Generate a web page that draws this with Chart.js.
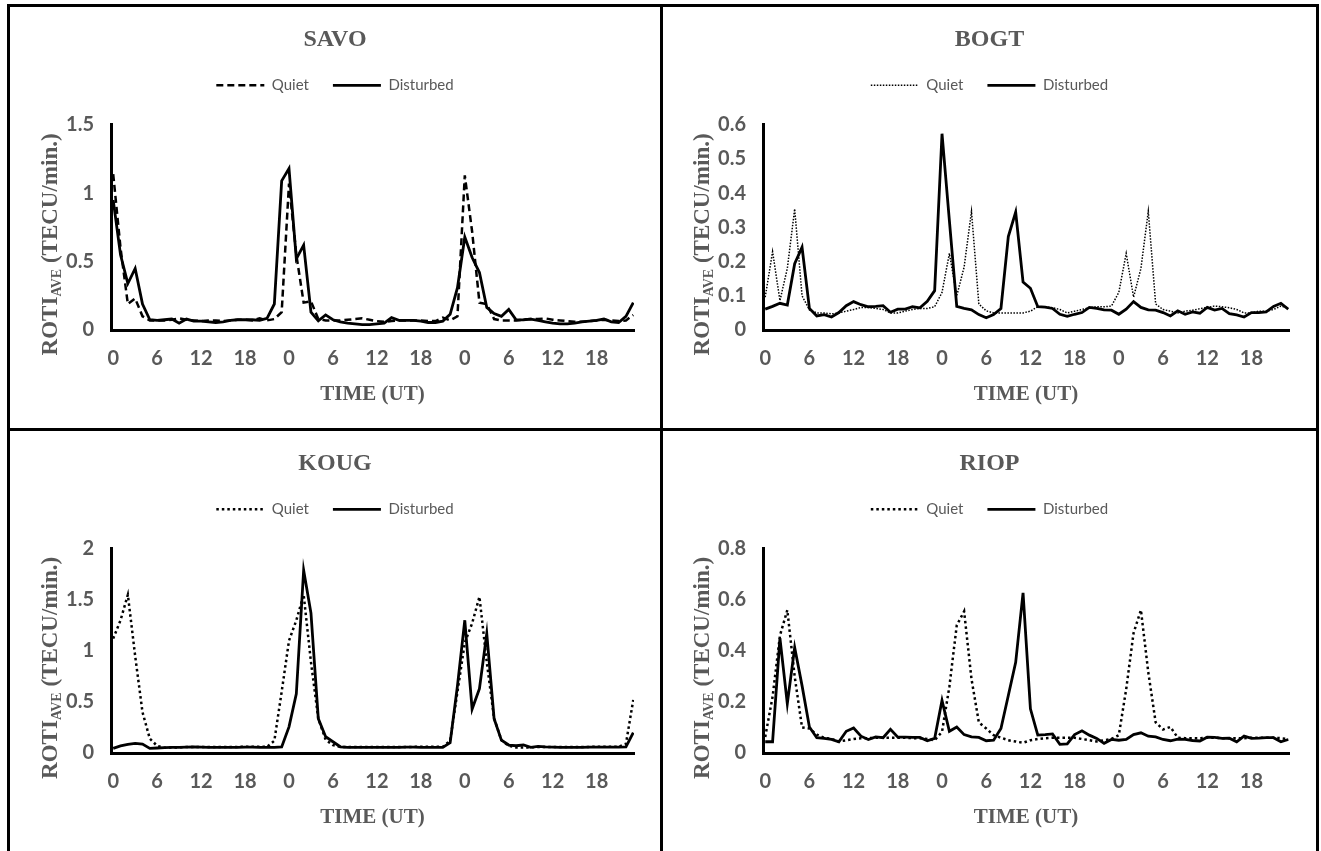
<!DOCTYPE html>
<html lang="en">
<head>
  <meta charset="UTF-8">
  <title>ROTI average - quiet vs disturbed</title>
  <script src="https://cdn.jsdelivr.net/npm/chart.js"></script>
  <style>
    body { margin: 0; background: #fff; }
    .cell { position: absolute; }
    .line { position: absolute; background: #000; }
  </style>
</head>
<body>
  <!-- frame -->
  <div class="line" style="left:7px;top:4px;width:3px;height:847px"></div>
  <div class="line" style="left:1316px;top:4px;width:3px;height:847px"></div>
  <div class="line" style="left:7px;top:4px;width:1312px;height:3px"></div>
  <div class="line" style="left:660px;top:4px;width:3px;height:847px"></div>
  <div class="line" style="left:7px;top:428px;width:1312px;height:3px"></div>

  <canvas id="savo" class="cell" width="650" height="421" style="left:10px;top:7px"></canvas>
  <canvas id="bogt" class="cell" width="653" height="421" style="left:663px;top:7px"></canvas>
  <canvas id="koug" class="cell" width="650" height="420" style="left:10px;top:431px"></canvas>
  <canvas id="riop" class="cell" width="653" height="420" style="left:663px;top:431px"></canvas>

  <script>
    // hour of day for each of the 72 hourly samples (3 days)
    const hours = [];
    for (let d = 0; d < 3; d++) for (let h = 0; h < 24; h++) hours.push(h);

    const savoQuiet = [1.14, 0.6, 0.19, 0.23, 0.1, 0.07, 0.07, 0.07, 0.075, 0.085, 0.075, 0.07, 0.065, 0.07, 0.07, 0.065, 0.07, 0.075, 0.075, 0.07, 0.085, 0.07, 0.08, 0.13,
      1.07, 0.55, 0.2, 0.21, 0.08, 0.07, 0.07, 0.07, 0.075, 0.08, 0.085, 0.075, 0.065, 0.06, 0.065, 0.07, 0.07, 0.07, 0.07, 0.065, 0.065, 0.09, 0.07, 0.1,
      1.13, 0.72, 0.2, 0.19, 0.08, 0.07, 0.07, 0.07, 0.075, 0.08, 0.08, 0.085, 0.075, 0.07, 0.065, 0.06, 0.06, 0.065, 0.07, 0.075, 0.07, 0.065, 0.07, 0.11];
    const savoDisturbed = [0.95, 0.55, 0.34, 0.45, 0.19, 0.075, 0.07, 0.075, 0.08, 0.05, 0.08, 0.065, 0.065, 0.06, 0.055, 0.06, 0.07, 0.075, 0.075, 0.075, 0.07, 0.085, 0.19, 1.09,
      1.18, 0.52, 0.62, 0.13, 0.067, 0.11, 0.075, 0.06, 0.05, 0.045, 0.04, 0.04, 0.045, 0.05, 0.09, 0.07, 0.07, 0.07, 0.065, 0.055, 0.055, 0.065, 0.115, 0.31,
      0.68, 0.53, 0.42, 0.165, 0.12, 0.1, 0.15, 0.074, 0.075, 0.08, 0.07, 0.06, 0.05, 0.045, 0.045, 0.05, 0.06, 0.065, 0.07, 0.08, 0.06, 0.055, 0.1, 0.2];

    const bogtQuiet = [0.096, 0.229, 0.086, 0.18, 0.354, 0.1, 0.059, 0.05, 0.05, 0.047, 0.05, 0.055, 0.06, 0.066, 0.066, 0.063, 0.06, 0.05, 0.05, 0.055, 0.06, 0.063, 0.063, 0.068,
      0.11, 0.224, 0.1, 0.184, 0.347, 0.076, 0.056, 0.05, 0.05, 0.05, 0.05, 0.05, 0.055, 0.068, 0.068, 0.065, 0.06, 0.05, 0.055, 0.06, 0.065, 0.068, 0.068, 0.07,
      0.11, 0.224, 0.096, 0.18, 0.347, 0.076, 0.06, 0.055, 0.05, 0.055, 0.058, 0.062, 0.066, 0.07, 0.068, 0.065, 0.06, 0.05, 0.05, 0.055, 0.055, 0.06, 0.07, 0.065];
    const bogtDisturbed = [0.061, 0.069, 0.078, 0.073, 0.194, 0.242, 0.063, 0.041, 0.045, 0.038, 0.051, 0.071, 0.083, 0.074, 0.068, 0.069, 0.071, 0.052, 0.061, 0.061, 0.068, 0.065, 0.084, 0.115,
      0.574, 0.32, 0.069, 0.063, 0.059, 0.045, 0.036, 0.045, 0.063, 0.273, 0.345, 0.14, 0.122, 0.068, 0.067, 0.063, 0.046, 0.04, 0.046, 0.051, 0.066, 0.063, 0.059, 0.058,
      0.046, 0.061, 0.083, 0.066, 0.059, 0.058, 0.051, 0.041, 0.056, 0.046, 0.053, 0.049, 0.066, 0.058, 0.063, 0.048, 0.044, 0.038, 0.051, 0.051, 0.053, 0.069, 0.078, 0.061];

    const kougQuiet = [1.12, 1.3, 1.55, 0.95, 0.4, 0.14, 0.07, 0.052, 0.055, 0.055, 0.058, 0.06, 0.058, 0.058, 0.058, 0.058, 0.058, 0.06, 0.06, 0.06, 0.06, 0.06, 0.12, 0.6,
      1.1, 1.3, 1.55, 0.89, 0.337, 0.13, 0.078, 0.06, 0.058, 0.058, 0.058, 0.058, 0.058, 0.058, 0.058, 0.058, 0.058, 0.06, 0.06, 0.06, 0.06, 0.06, 0.12, 0.6,
      1.08, 1.27, 1.53, 0.89, 0.34, 0.126, 0.07, 0.055, 0.055, 0.055, 0.058, 0.058, 0.058, 0.058, 0.058, 0.058, 0.058, 0.06, 0.06, 0.06, 0.06, 0.06, 0.09, 0.52];
    const kougDisturbed = [0.045, 0.07, 0.084, 0.094, 0.087, 0.045, 0.049, 0.052, 0.055, 0.055, 0.058, 0.06, 0.058, 0.056, 0.055, 0.055, 0.055, 0.056, 0.058, 0.058, 0.056, 0.055, 0.055, 0.06,
      0.256, 0.58, 1.79, 1.37, 0.337, 0.16, 0.11, 0.061, 0.056, 0.055, 0.055, 0.055, 0.055, 0.055, 0.055, 0.055, 0.058, 0.058, 0.055, 0.055, 0.055, 0.055, 0.1, 0.66,
      1.3, 0.43, 0.63, 1.17, 0.337, 0.126, 0.078, 0.071, 0.078, 0.055, 0.065, 0.06, 0.058, 0.055, 0.055, 0.055, 0.055, 0.058, 0.058, 0.058, 0.058, 0.058, 0.06, 0.2];

    const riopQuiet = [0.063, 0.22, 0.46, 0.56, 0.3, 0.1, 0.096, 0.072, 0.06, 0.055, 0.045, 0.05, 0.055, 0.058, 0.058, 0.06, 0.06, 0.06, 0.06, 0.06, 0.058, 0.058, 0.055, 0.05,
      0.083, 0.26, 0.5, 0.555, 0.29, 0.12, 0.096, 0.07, 0.06, 0.05, 0.045, 0.04, 0.05, 0.055, 0.058, 0.06, 0.06, 0.06, 0.06, 0.055, 0.05, 0.045, 0.05, 0.055,
      0.07, 0.25, 0.47, 0.56, 0.316, 0.12, 0.092, 0.102, 0.06, 0.058, 0.058, 0.058, 0.06, 0.06, 0.058, 0.058, 0.058, 0.058, 0.06, 0.06, 0.06, 0.06, 0.058, 0.055];
    const riopDisturbed = [0.044, 0.044, 0.45, 0.193, 0.413, 0.264, 0.102, 0.06, 0.057, 0.053, 0.044, 0.085, 0.098, 0.066, 0.053, 0.063, 0.06, 0.093, 0.062, 0.062, 0.061, 0.061, 0.048, 0.057,
      0.206, 0.085, 0.102, 0.072, 0.063, 0.061, 0.048, 0.05, 0.096, 0.225, 0.355, 0.627, 0.173, 0.07, 0.072, 0.075, 0.034, 0.036, 0.072, 0.087, 0.07, 0.057, 0.038, 0.053,
      0.05, 0.053, 0.072, 0.079, 0.066, 0.063, 0.053, 0.048, 0.054, 0.053, 0.049, 0.047, 0.062, 0.061, 0.057, 0.058, 0.044, 0.066, 0.057, 0.058, 0.06, 0.06, 0.044, 0.053];

    const grey = '#595959';
    const legendSample = 48;

    // y axis title with subscript, drawn rotated left of the plot
    const yTitlePlugin = {
      id: 'yTitle',
      afterDraw(chart) {
        const ctx = chart.ctx;
        const a = chart.chartArea;
        const big = 'bold 23px "Liberation Serif"';
        const small = 'bold 14px "Liberation Serif"';
        ctx.save();
        ctx.translate(a.left - 62, (a.top + a.bottom) / 2 + 17);
        ctx.rotate(-Math.PI / 2);
        ctx.fillStyle = grey;
        ctx.textBaseline = 'alphabetic';
        ctx.font = big;
        const w1 = ctx.measureText('ROTI').width;
        const w3 = ctx.measureText(' (TECU/min.)').width;
        ctx.font = small;
        const w2 = ctx.measureText('AVE').width;
        let x = -(w1 + w2 + w3) / 2;
        ctx.font = big;
        ctx.fillText('ROTI', x, 8);
        x += w1;
        ctx.font = small;
        ctx.fillText('AVE', x, 12);
        x += w2;
        ctx.font = big;
        ctx.fillText(' (TECU/min.)', x, 8);
        ctx.restore();
      }
    };

    // legend line samples with the dataset dash pattern
    const legendLinePlugin = {
      id: 'legendLines',
      afterDraw(chart) {
        const lg = chart.legend;
        const ctx = chart.ctx;
        lg.legendItems.forEach((item, i) => {
          const hb = lg.legendHitBoxes[i];
          const ds = chart.data.datasets[item.datasetIndex];
          const y = hb.top + hb.height / 2;
          ctx.save();
          ctx.strokeStyle = '#000';
          ctx.lineWidth = ds.borderWidth;
          ctx.setLineDash(ds.borderDash || []);
          ctx.beginPath();
          ctx.moveTo(hb.left, y);
          ctx.lineTo(hb.left + legendSample, y);
          ctx.stroke();
          ctx.restore();
        });
      }
    };

    function drawPanel(id, station, quiet, disturbed, yMax, yStep, quietDash, quietWidth, pad, yWidth) {
      new Chart(document.getElementById(id), {
        type: 'line',
        data: {
          datasets: [{
            label: 'Quiet',
            data: quiet.map((v, i) => ({ x: i, y: v })),
            borderColor: '#000',
            backgroundColor: '#000',
            borderWidth: quietWidth,
            borderDash: quietDash,
            pointRadius: 0,
            tension: 0
          }, {
            label: 'Disturbed',
            data: disturbed.map((v, i) => ({ x: i, y: v })),
            borderColor: '#000',
            backgroundColor: '#000',
            borderWidth: 2.8,
            pointRadius: 0,
            tension: 0
          }]
        },
        options: {
          responsive: false,
          animation: false,
          layout: { padding: { left: pad, right: pad, top: 0, bottom: 0 } },
          plugins: {
            title: {
              display: true,
              text: station,
              color: grey,
              font: { family: '"Liberation Serif"', size: 24, weight: 'bold' },
              padding: { top: 18, bottom: 0 }
            },
            legend: {
              labels: {
                color: grey,
                font: { family: 'Lato', size: 15 },
                usePointStyle: true,
                pointStyle: 'line',
                pointStyleWidth: legendSample,
                boxWidth: legendSample,
                boxHeight: 10,
                padding: 24,
                generateLabels: chart => Chart.defaults.plugins.legend.labels.generateLabels(chart)
                  .map(l => Object.assign(l, { lineWidth: 0, pointStyle: 'line' }))
              }
            },
            tooltip: { enabled: false }
          },
          scales: {
            x: {
              type: 'linear',
              min: -0.3,
              max: 71.1,
              grid: { display: false, drawTicks: false },
              border: { display: true, color: '#000', width: 3 },
              ticks: {
                stepSize: 6,
                autoSkip: false,
                includeBounds: false,
                maxRotation: 0,
                color: grey,
                font: { family: 'Lato', size: 20, weight: 'bold' },
                padding: 17,
                callback: v => (v >= 0 && v < 72 && v % 6 === 0) ? String(hours[v]) : ''
              },
              title: {
                display: true,
                text: 'TIME (UT)',
                color: grey,
                font: { family: '"Liberation Serif"', size: 21, weight: 'bold' },
                padding: { top: 0, bottom: 21 }
              },
              afterFit: s => { s.height = 98; }
            },
            gap: {
              type: 'linear',
              position: 'top',
              min: 0,
              max: 1,
              grid: { display: false, drawTicks: false },
              border: { display: false },
              ticks: { display: false },
              afterFit: s => { s.height = 22; }
            },
            y: {
              min: 0,
              max: yMax,
              grid: { display: false, drawTicks: false },
              border: { display: true, color: '#000', width: 3 },
              ticks: {
                stepSize: yStep,
                color: grey,
                font: { family: 'Lato', size: 20, weight: 'bold' },
                padding: 17,
                callback: v => String(+v.toFixed(2))
              },
              afterFit: s => { s.width = yWidth; }
            }
          }
        },
        plugins: [yTitlePlugin, legendLinePlugin]
      });
    }

    drawPanel('savo', 'SAVO', savoQuiet, savoDisturbed, 1.5, 0.5, [7, 4], 2.5, 26, 75);
    drawPanel('bogt', 'BOGT', bogtQuiet, bogtDisturbed, 0.6, 0.1, [1.5, 1.5], 1.5, 27, 73);
    drawPanel('koug', 'KOUG', kougQuiet, kougDisturbed, 2, 0.5, [2.5, 3], 2.5, 26, 75);
    drawPanel('riop', 'RIOP', riopQuiet, riopDisturbed, 0.8, 0.2, [2.5, 3], 2.5, 27, 73);
  </script>
</body>
</html>
